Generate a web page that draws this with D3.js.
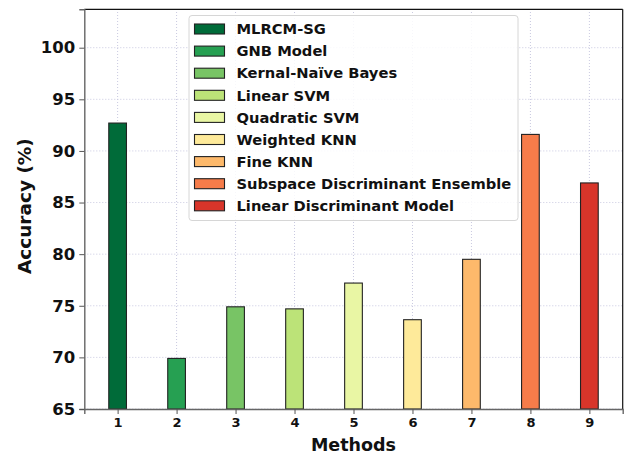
<!DOCTYPE html>
<html>
<head>
<meta charset="utf-8">
<script src="https://cdn.jsdelivr.net/npm/d3@7"></script>
<style>
  html, body { margin: 0; padding: 0; background: #fff; }
  svg { display: block; font-family: "DejaVu Sans", sans-serif; }
</style>
</head>
<body>
<svg id="chart" width="624" height="456"></svg>
<script>
// Accuracy of each classification method
const methods = [1, 2, 3, 4, 5, 6, 7, 8, 9];
const methodNames = [
  "MLRCM-SG", "GNB Model", "Kernal-Naïve Bayes", "Linear SVM", "Quadratic SVM",
  "Weighted KNN", "Fine KNN", "Subspace Discriminant Ensemble", "Linear Discriminant Model"
];
const accuracy = [92.7, 69.9, 74.9, 74.7, 77.2, 73.65, 79.5, 91.6, 86.9];
const barColors = [
  "#006b39", "#26a052", "#78c465", "#bce378", "#e9f6a4",
  "#feea9a", "#fdb96b", "#f67c4a", "#d8352a"
];
const yTicks = [65, 70, 75, 80, 85, 90, 95, 100];

const svg = d3.select("#chart");
const W = 624, H = 456;
const margin = { left: 84.3, right: W - 622.7, top: 9.3, bottom: H - 409 };
const x0 = margin.left, x1 = W - margin.right, y0 = H - margin.bottom, y1 = margin.top;

const x = d3.scaleLinear().domain([0.435, 9.565]).range([x0, x1]);
const y = d3.scaleLinear().domain([65, 103.72]).range([y0, y1]);
const barW = 0.3;

// dotted grid
const grid = svg.append("g");
grid.selectAll("line.gx").data(methods).join("line")
  .attr("x1", d => x(d)).attr("x2", d => x(d))
  .attr("y1", y0).attr("y2", y1)
  .attr("stroke", "#c9c9e0").attr("stroke-width", 1)
  .attr("stroke-dasharray", "1,2");
grid.selectAll("line.gy").data(yTicks).join("line")
  .attr("x1", x0).attr("x2", x1)
  .attr("y1", d => y(d)).attr("y2", d => y(d))
  .attr("stroke", "#c9c9e0").attr("stroke-width", 1)
  .attr("stroke-dasharray", "1,2");

// bars
svg.append("g").selectAll("rect").data(methods).join("rect")
  .attr("x", (d) => x(d - barW / 2))
  .attr("width", (d) => x(d + barW / 2) - x(d - barW / 2))
  .attr("y", (d, i) => y(accuracy[i]))
  .attr("height", (d, i) => y(65) - y(accuracy[i]))
  .attr("fill", (d, i) => barColors[i])
  .attr("stroke", "#222").attr("stroke-width", 1.1);

// spines
svg.append("line").attr("x1", x0).attr("x2", x1).attr("y1", y1).attr("y2", y1)
  .attr("stroke", "#111").attr("stroke-width", 1.2);
svg.append("line").attr("x1", x1).attr("x2", x1).attr("y1", y1).attr("y2", y0)
  .attr("stroke", "#111").attr("stroke-width", 1.2);

// axes
const xAxis = svg.append("g").attr("transform", `translate(0,${y0})`)
  .call(d3.axisBottom(x).tickValues(methods).tickFormat(d3.format("d")).tickSize(5).tickPadding(4));
const yAxis = svg.append("g").attr("transform", `translate(${x0},0)`)
  .call(d3.axisLeft(y).tickValues(yTicks).tickSize(5).tickPadding(4));
[xAxis, yAxis].forEach(a => {
  a.select(".domain").attr("stroke", "#666").attr("stroke-width", 1.4);
  a.selectAll(".tick line").attr("stroke", "#555").attr("stroke-width", 1);
  a.selectAll("text").attr("fill", "#111").attr("font-weight", "bold")
    .attr("font-family", "DejaVu Sans, sans-serif");
});
xAxis.selectAll("text").attr("font-size", 13);
yAxis.selectAll("text").attr("font-size", 16.5);

// axis titles
svg.append("text").attr("x", (x0 + x1) / 2).attr("y", 451)
  .attr("text-anchor", "middle").attr("font-size", 17.5).attr("font-weight", "bold")
  .attr("fill", "#111").text("Methods");
svg.append("text").attr("transform", `translate(31,${(y0 + y1) / 2 - 3}) rotate(-90)`)
  .attr("text-anchor", "middle").attr("font-size", 18.5).attr("font-weight", "bold")
  .attr("fill", "#111").text("Accuracy (%)");

// legend
const lg = svg.append("g");
lg.append("rect").attr("x", 189).attr("y", 15.5).attr("width", 329).attr("height", 205)
  .attr("rx", 3).attr("fill", "#fff").attr("fill-opacity", 0.85)
  .attr("stroke", "#d6d6d6").attr("stroke-width", 1);
const rowH = 22.1, firstRow = 29;
const items = lg.selectAll("g.item").data(methodNames).join("g")
  .attr("transform", (d, i) => `translate(0,${firstRow + i * rowH})`);
items.append("rect").attr("x", 194.5).attr("y", -5).attr("width", 30).attr("height", 10)
  .attr("fill", (d, i) => barColors[i]).attr("stroke", "#222").attr("stroke-width", 1.1);
items.append("text").attr("x", 236.5).attr("y", 0).attr("dy", "0.36em")
  .attr("font-size", 14.7).attr("font-weight", "bold").attr("fill", "#111")
  .text(d => d);
</script>
</body>
</html>
